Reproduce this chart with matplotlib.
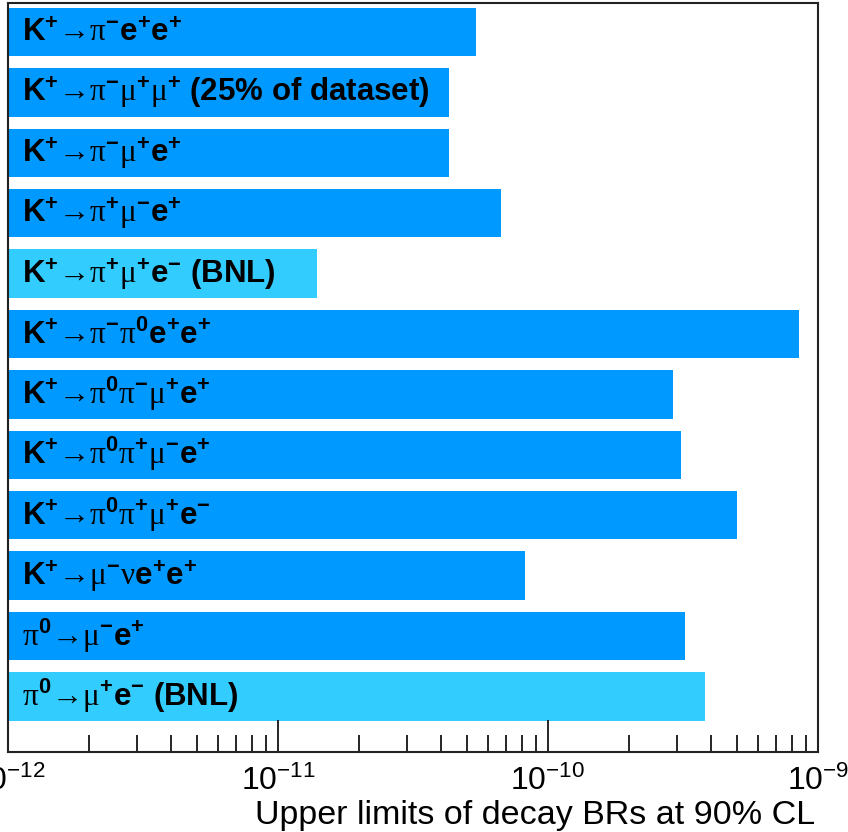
import matplotlib
matplotlib.use("Agg")
import matplotlib.pyplot as plt
import matplotlib.transforms as mtransforms
import numpy as np

plt.rcParams["font.family"] = ["Liberation Sans", "DejaVu Sans"]
plt.rcParams["mathtext.fontset"] = "custom"
plt.rcParams["mathtext.rm"] = "Liberation Sans"
plt.rcParams["mathtext.bf"] = "Liberation Sans:bold"
plt.rcParams["mathtext.it"] = "Liberation Sans:italic"
plt.rcParams["mathtext.sf"] = "Liberation Serif"
plt.rcParams["mathtext.default"] = "rm"

# building blocks for decay-channel labels
K = r"\mathbf{K}^{\mathbf{+}}"
AR = r"\mathsf{→}"
PI = r"\mathsf{\pi}"
MU = r"\mathsf{\mu}"
NU = r"\mathsf{\nu}"
E = r"\mathbf{e}"
P = r"^{\mathbf{+}}"
M = r"^{\mathbf{-}}"
Z = r"^{\mathbf{0}}"

channels = [
    "$" + K + AR + PI + M + E + P + E + P + "$",
    "$" + K + AR + PI + M + MU + P + MU + P + "$ (25% of dataset)",
    "$" + K + AR + PI + M + MU + P + E + P + "$",
    "$" + K + AR + PI + P + MU + M + E + P + "$",
    "$" + K + AR + PI + P + MU + P + E + M + "$ (BNL)",
    "$" + K + AR + PI + M + PI + Z + E + P + E + P + "$",
    "$" + K + AR + PI + Z + PI + M + MU + P + E + P + "$",
    "$" + K + AR + PI + Z + PI + P + MU + M + E + P + "$",
    "$" + K + AR + PI + Z + PI + P + MU + P + E + M + "$",
    "$" + K + AR + MU + M + NU + E + P + E + P + "$",
    "$" + PI + Z + AR + MU + M + E + P + "$",
    "$" + PI + Z + AR + MU + P + E + M + "$ (BNL)",
]

upper_limits = [5.3e-11, 4.2e-11, 4.2e-11, 6.6e-11, 1.3e-11, 8.5e-10,
                2.9e-10, 3.1e-10, 5.0e-10, 8.1e-11, 3.2e-10, 3.8e-10]
experiment = ["NA62", "NA62", "NA62", "NA62", "BNL", "NA62",
              "NA62", "NA62", "NA62", "NA62", "NA62", "BNL"]

tick_values = [1e-12, 1e-11, 1e-10, 1e-9]
tick_labels = [r"$10^{-12}$", r"$10^{-11}$", r"$10^{-10}$", r"$10^{-9}$"]

colors = {"NA62": "#0099ff", "BNL": "#33ccff"}

fig = plt.figure(figsize=(8.48, 8.32), dpi=100)
ax = fig.add_axes([8 / 848, (832 - 752) / 832, 810 / 848, 749 / 832])

ypos = np.arange(len(channels))
ax.barh(ypos, upper_limits, left=1e-12, height=0.8,
        color=[colors[e] for e in experiment], edgecolor="none")

ax.set_xscale("log")
ax.set_xlim(1e-12, 1e-9)
ax.set_ylim(11.92, -0.48)

label_tr = mtransforms.blended_transform_factory(ax.transAxes, ax.transData)
for y, lab in zip(ypos, channels):
    ax.text(14 / 810, y + 0.16, lab, va="baseline", ha="left",
            fontsize=22.5, fontweight="bold", color="black",
            transform=label_tr)

ax.set_yticks([])
ax.set_xticks(tick_values)
ax.set_xticklabels(tick_labels, fontsize=23)
ax.tick_params(axis="x", which="major", direction="in", length=23,
               width=1.2, pad=10, top=False)
ax.tick_params(axis="x", which="minor", direction="in", length=12,
               width=1.2, top=False)
for s in ax.spines.values():
    s.set_linewidth(1.5)
    s.set_color("#222222")

fig.text(815 / 848, 1 - 824 / 832, "Upper limits of decay BRs at 90% CL",
         ha="right", va="baseline", fontsize=24.5)

fig.savefig("out.png", dpi=100)
